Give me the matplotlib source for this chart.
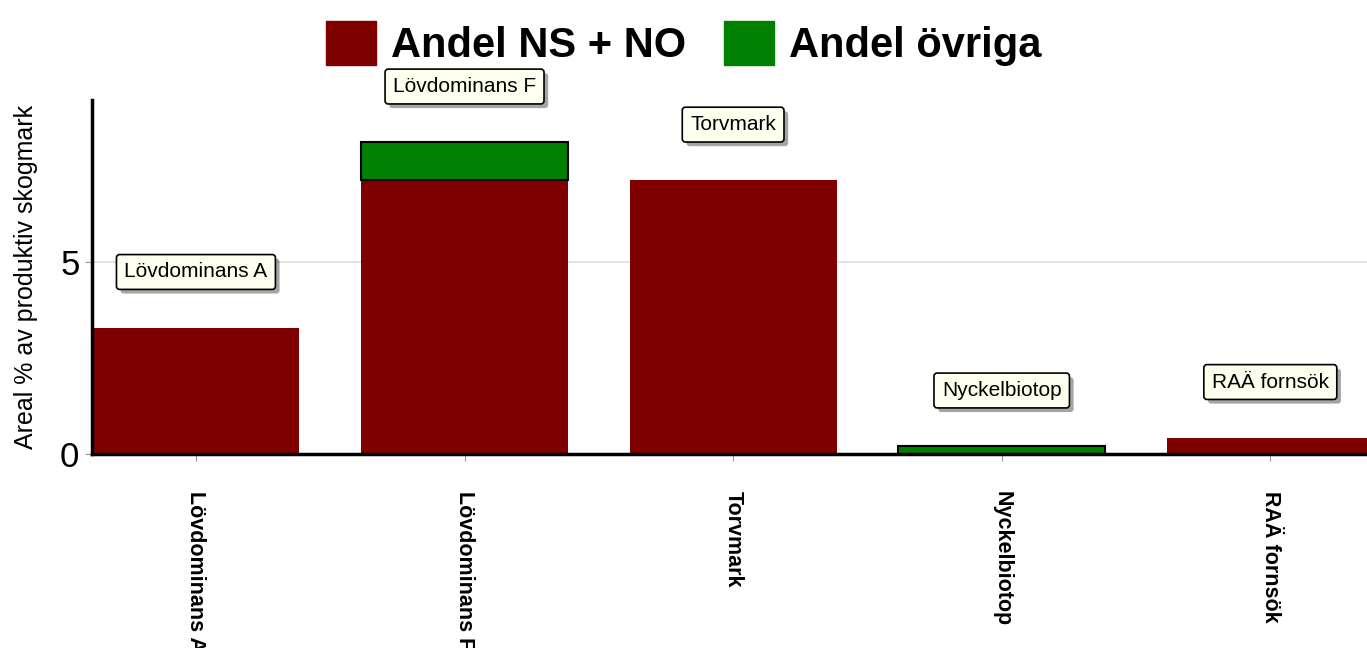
import numpy as np
import matplotlib
matplotlib.use("Agg")
import matplotlib.pyplot as plt
import matplotlib.patches as mpatches
import matplotlib.patheffects as pe

plt.rcParams['font.family'] = ['Liberation Sans', 'DejaVu Sans']

categories = ["Lövdominans A", "Lövdominans F", "Torvmark", "Nyckelbiotop", "RAÄ fornsök"]
andel_ns_no = [3.28, 7.11, 7.11, 0.0, 0.42]
andel_ovriga = [0.0, 0.99, 0.0, 0.2, 0.0]

RED = "#800000"
GREEN = "#008000"

fig = plt.figure(figsize=(13.67, 6.48), dpi=100)
ax = fig.add_axes([0.0673, 0.2994, 0.9327, 0.5463])

x = np.arange(len(categories))
ax.bar(x, andel_ns_no, width=0.77, color=RED, linewidth=0, zorder=2)
green = ax.bar(x, andel_ovriga, width=0.77, bottom=andel_ns_no, color=GREEN,
               edgecolor="black", linewidth=1.5, zorder=2)
# no outline for empty segments
for rect, v in zip(green, andel_ovriga):
    if v == 0:
        rect.set_edgecolor("none")

ax.set_xlim(-0.387, 4.36)
ax.set_ylim(0, 9.2)
ax.set_yticks([0, 5])
ax.yaxis.grid(True, color="#dddddd", linewidth=1.2, zorder=0)
ax.set_axisbelow(True)
ax.tick_params(axis="y", labelsize=25, length=5, color="#999999", pad=4)
ax.tick_params(axis="x", length=5, color="#999999", pad=22)
ax.set_xticks(x)
ax.set_xticklabels(categories, rotation=-90, fontsize=15.5, fontweight="bold",
                   va="top", ha="center")
ax.set_ylabel("Areal % av produktiv skogmark", fontsize=18, labelpad=16)

for side in ["top", "right"]:
    ax.spines[side].set_visible(False)
ax.spines["left"].set_linewidth(2.5)
ax.spines["bottom"].set_linewidth(2.5)

# boxed labels above each bar
for xi, name, a, b in zip(x, categories, andel_ns_no, andel_ovriga):
    t = ax.text(xi, a + b + 1.45, name, ha="center", va="center", fontsize=15,
                clip_on=False, zorder=5,
                bbox=dict(boxstyle="round,pad=0.38,rounding_size=0.15",
                          facecolor="#fffff0", edgecolor="black", linewidth=1.2))
    t.get_bbox_patch().set_path_effects([pe.withSimplePatchShadow(offset=(3, -3),
                                                                   alpha=0.5)])

handles = [mpatches.Patch(color=RED, label="Andel NS + NO"),
           mpatches.Patch(color=GREEN, label="Andel övriga")]
fig.legend(handles=handles, loc="upper center", bbox_to_anchor=(0.5, 1.025),
           ncol=2, frameon=False, prop={"size": 30, "weight": "bold"},
           handlelength=1.22, handleheight=1.22, handletextpad=0.35,
           columnspacing=0.9)

fig.savefig("out.png", dpi=100)
